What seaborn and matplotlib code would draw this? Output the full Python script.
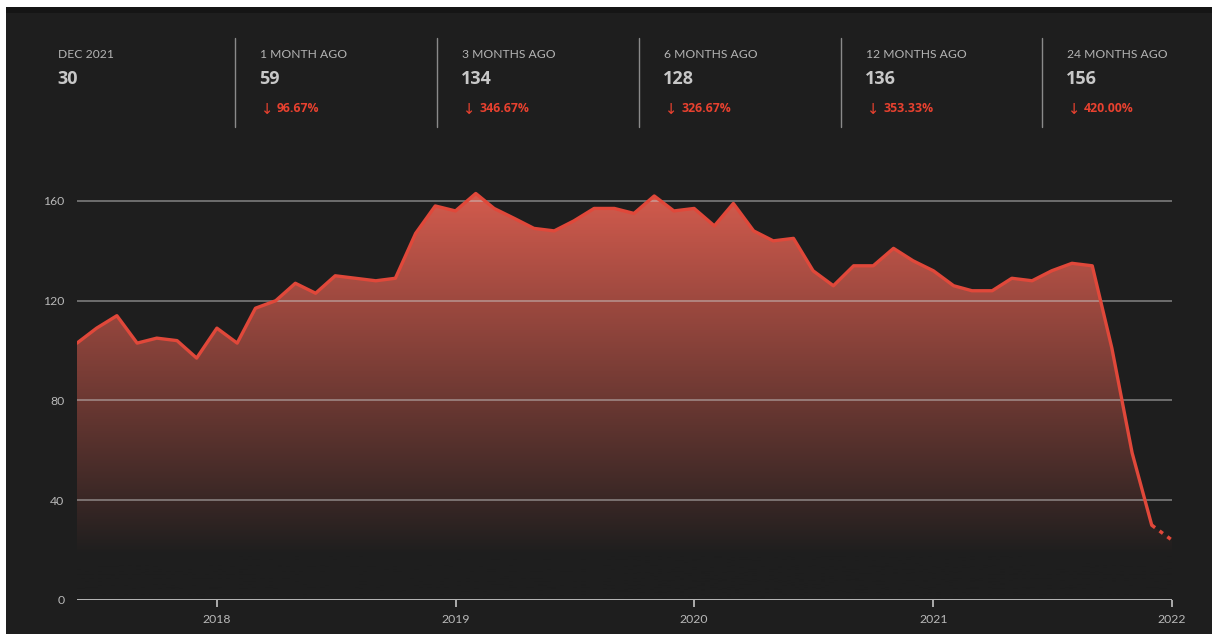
import numpy as np
import pandas as pd
import seaborn as sns
import matplotlib
matplotlib.use("Agg")
import matplotlib.pyplot as plt
import matplotlib.dates as mdates
from matplotlib.patches import Rectangle
from matplotlib.lines import Line2D

# monthly values, Jun 2017 .. Dec 2021
months = pd.date_range("2017-06-01", "2021-12-01", freq="MS")
values = [103, 109, 114, 103, 105, 104, 97,
          109, 103, 117, 120, 127, 123, 130, 129, 128, 129, 147, 158,
          156, 163, 157, 153, 149, 148, 152, 157, 157, 155, 162, 156,
          157, 150, 159, 148, 144, 145, 132, 126, 134, 134, 141, 136,
          132, 126, 124, 124, 129, 128, 132, 135, 134, 101, 59, 30]
proj_month = pd.Timestamp("2022-01-01")
proj_value = 24

header_labels = ["DEC 2021", "1 MONTH AGO", "3 MONTHS AGO", "6 MONTHS AGO", "12 MONTHS AGO", "24 MONTHS AGO"]
header_values = ["30", "59", "134", "128", "136", "156"]
header_changes = [None, "96.67%", "346.67%", "326.67%", "353.33%", "420.00%"]

yticks = [0, 40, 80, 120, 160]
xticks = ["2018-01-01", "2019-01-01", "2020-01-01", "2021-01-01", "2022-01-01"]
xtick_labels = ["2018", "2019", "2020", "2021", "2022"]

df = pd.DataFrame({"month": months, "value": values})
df_proj = pd.DataFrame({"month": [months[-1], proj_month], "value": [values[-1], proj_value]})

W, H = 1212, 634
BG = "#1e1e1e"
RED = "#e0483a"

sns.set_theme(style="dark")
plt.rcParams["font.family"] = ["Lato", "DejaVu Sans"]

fig = plt.figure(figsize=(W / 100, H / 100), dpi=100)
fig.patch.set_facecolor("white")
fig.add_artist(Rectangle((6 / W, 0), 1 - 6 / W, 1 - 7 / H, transform=fig.transFigure,
                         facecolor=BG, edgecolor="none", zorder=-10))
fig.add_artist(Rectangle((6 / W, 1 - 13 / H), 1 - 6 / W, 6 / H, transform=fig.transFigure,
                         facecolor="#151515", edgecolor="none", zorder=-9))

def fx(x):
    return x / W

def fy(y):
    return 1 - y / H

# header strip
col_x = [58, 260, 462, 664, 866, 1067]
for i, x in enumerate(col_x):
    fig.text(fx(x), fy(54), header_labels[i], color="#b4b4b4", fontsize=8.7,
             va="center", ha="left")
    fig.text(fx(x - 1), fy(79), header_values[i], color="#c8c8c8", fontsize=13,
             fontweight="bold", va="center", ha="left", family=["Open Sans", "DejaVu Sans"])
    if header_changes[i]:
        fig.text(fx(x + 1), fy(109), "\u2193", color="#e8412f",
                 fontsize=10.5, va="center", ha="left", family=["DejaVu Sans"])
        fig.text(fx(x + 17), fy(109), header_changes[i], color="#e8412f",
                 fontsize=8.8, fontweight="bold", va="center", ha="left",
                 family=["Open Sans", "DejaVu Sans"])
    if i > 0:
        fig.add_artist(Line2D([fx(x - 25), fx(x - 25)], [fy(38), fy(127)],
                              transform=fig.transFigure, color="#8a8a8a", lw=1))

# chart axes
top_val = 175
ax = fig.add_axes([fx(77), (H - 600) / H, (1172 - 77) / W, top_val * 2.494 / H])
ax.set_facecolor("none")

x0 = mdates.date2num(pd.Timestamp("2017-06-01"))
x1 = mdates.date2num(proj_month)

# gradient fill under the line
fill_x = list(mdates.date2num(months)) + [x1]
fill_y = values + [proj_value]
poly = ax.fill_between(fill_x, fill_y, 0, facecolor="none", edgecolor="none")
grad_v = np.linspace(0, top_val, 300)
t = np.clip((grad_v - 18) / 147, 0, 1)[:, None]
bg_rgb = np.array([30, 30, 30]) / 255
top_rgb = np.array([214, 92, 78]) / 255
img = bg_rgb + t * (top_rgb - bg_rgb)
img = img[:, None, :]
im = ax.imshow(img, origin="lower", extent=[x0, x1, 0, top_val], aspect="auto", zorder=1)
im.set_clip_path(poly.get_paths()[0], transform=ax.transData)

# grid
for v in yticks[1:]:
    ax.axhline(v, color="#c8c8c8", lw=1.2, alpha=0.55, zorder=2)
ax.axhline(0, color="#c4c4c4", lw=1.3, zorder=2)

sns.lineplot(data=df, x="month", y="value", ax=ax, color=RED, lw=2.4, zorder=3)
sns.lineplot(data=df_proj, x="month", y="value", ax=ax, color=RED, lw=2.5,
             linestyle=(0, (1.2, 1.6)), zorder=3)

ax.set_xlim(x0, x1)
ax.set_ylim(0, top_val)
ax.set_yticks(yticks)
ax.set_yticklabels([str(v) for v in yticks])
ax.set_xticks(mdates.date2num(pd.to_datetime(xticks)))
ax.set_xticklabels(xtick_labels)
ax.tick_params(axis="y", length=0, pad=9, labelcolor="#b8b8b8", labelsize=8.8)
ax.tick_params(axis="x", length=5, width=1.2, color="#c4c4c4", pad=5,
               labelcolor="#b8b8b8", labelsize=8.8, bottom=True)
ax.set_xlabel("")
ax.set_ylabel("")
ax.grid(False)
for s in ax.spines.values():
    s.set_visible(False)

fig.savefig("out.png", dpi=100, facecolor=fig.get_facecolor())
